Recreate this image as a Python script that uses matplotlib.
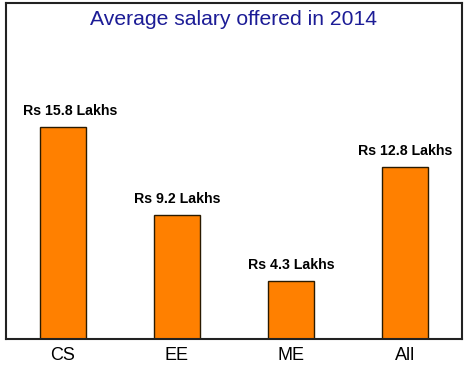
import matplotlib

matplotlib.use("Agg")
from matplotlib import pyplot as plt  # noqa: E402

plt.rcParams["font.family"] = ["Liberation Sans", "DejaVu Sans"]

categories = ["CS", "EE", "ME", "All"]
salaries = [15.8, 9.2, 4.3, 12.8]
labels = ["Rs 15.8 Lakhs", "Rs 9.2 Lakhs", "Rs 4.3 Lakhs", "Rs 12.8 Lakhs"]

fig = plt.figure(figsize=(4.68, 3.70), dpi=100)
ax = fig.add_axes([0.0128, 0.0838, 0.9744, 0.9082])

x = range(len(categories))
ax.bar(x, salaries, width=0.41, color="#ff8000", edgecolor="#2a1a00", linewidth=1.0)
for xi, val, lab in zip(x, salaries, labels):
    # first label is nudged right so it clears the left border
    dx = 5 if xi == 0 else 0
    ax.annotate(lab, (xi, val), xytext=(dx, 6.5), textcoords="offset points",
                ha="center", va="bottom", fontsize=10.2, fontweight="bold")

ax.set_xlim(-0.5, 3.5)
ax.set_ylim(0, 25)
ax.set_xticks(list(x))
ax.set_xticklabels(categories, fontsize=13)
ax.tick_params(axis="x", length=0, pad=6)
ax.set_yticks([])
for spine in ax.spines.values():
    spine.set_linewidth(1.5)
    spine.set_color("#222222")

ax.text(0.5, 0.952, "Average salary offered in 2014", transform=ax.transAxes,
        ha="center", va="center", fontsize=15.2, color="#1c1c96")

fig.savefig("out.png", dpi=100)
